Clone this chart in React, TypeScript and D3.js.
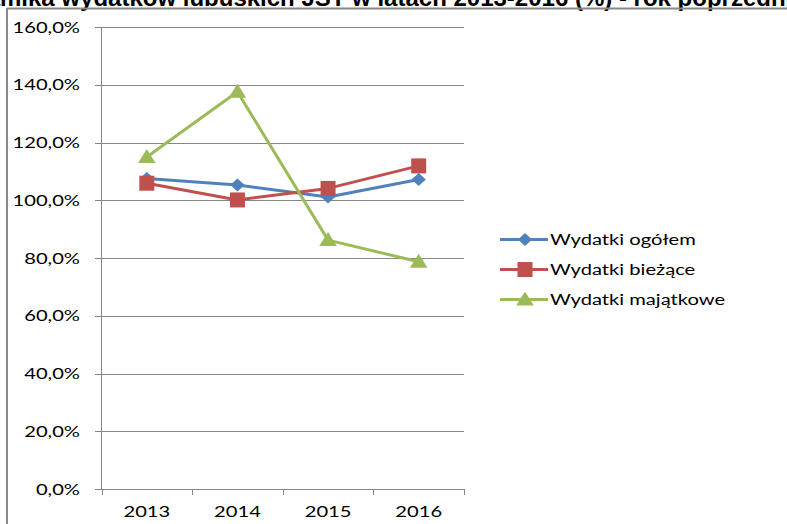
import React from "react";
import * as d3 from "d3";

const years = ["2013", "2014", "2015", "2016"];
const seriesNames = ["Wydatki ogółem", "Wydatki bieżące", "Wydatki majątkowe"];
const ogolem = [107.5, 105.3, 101.1, 107.2];
const biezace = [105.9, 100.1, 104.1, 111.9];
const majatkowe = [115.0, 137.6, 86.2, 78.7];
const yTicks = [0, 20, 40, 60, 80, 100, 120, 140, 160];
const colors = ["#4F81BD", "#C0504D", "#9BBB59"];
const markers = ["diamond", "square", "triangle"];
const titleText = "Dynamika wydatków lubuskich JST w latach 2013-2016 (%) - rok poprzedni = 100";

const W = 787;
const H = 524;
const FONT = "Lato, 'Open Sans', sans-serif";
const SX = 1.26;

function Marker({ kind, x, y, color }: { kind: string; x: number; y: number; color: string }) {
  if (kind === "diamond") {
    const s = 6.5;
    return <path d={`M${x},${y - s}L${x + s * 1.1},${y}L${x},${y + s}L${x - s * 1.1},${y}Z`} fill={color} />;
  }
  if (kind === "square") {
    const s = 7.5;
    return <rect x={x - s} y={y - s} width={2 * s} height={2 * s} fill={color} />;
  }
  const s = 8;
  return <path d={`M${x},${y - s}L${x + s * 1.1},${y + s * 0.75}L${x - s * 1.1},${y + s * 0.75}Z`} fill={color} />;
}

function Label({ x, y, anchor, children }: { x: number; y: number; anchor: string; children: React.ReactNode }) {
  return (
    <text
      transform={`translate(${x},${y}) scale(${SX},1)`}
      dy="0.35em"
      textAnchor={anchor}
      fontFamily={FONT}
      fontSize={16}
      fill="#000"
    >
      {children}
    </text>
  );
}

export default function App() {
  const data = [ogolem, biezace, majatkowe];
  const x = d3.scaleBand().domain(years).range([101.5, 464]);
  const y = d3.scaleLinear().domain([0, 160]).range([489, 27]);
  const cx = (yr: string) => (x(yr) as number) + x.bandwidth() / 2;
  const line = d3
    .line<number>()
    .x((_, i) => cx(years[i]))
    .y((v) => y(v));

  return (
    <svg width={W} height={H} style={{ position: "absolute", left: 0, top: 0, background: "#fff" }}>
      <text x={-58.7} y={5.5} fontFamily="'Liberation Sans', Arial, sans-serif" fontWeight="bold" fontSize={24} fill="#000">
        {titleText}
      </text>
      <line x1={7} x2={W} y1={8.5} y2={8.5} stroke="#888" strokeWidth={2} />
      <line x1={7} x2={7} y1={8} y2={H} stroke="#888" strokeWidth={2} />
      {yTicks.map((t) => (
        <g key={t}>
          <line x1={95} x2={464} y1={Math.round(y(t)) + 0.5} y2={Math.round(y(t)) + 0.5} stroke="#868686" strokeWidth={1} />
          <Label x={80} y={y(t)} anchor="end">
            {d3.format(".1f")(t).replace(".", ",") + "%"}
          </Label>
        </g>
      ))}
      <line x1={101.5} x2={101.5} y1={27} y2={489} stroke="#868686" strokeWidth={1} />
      {[...years.map((yr) => x(yr) as number), 464].map((tx, i) => (
        <line key={i} x1={Math.round(tx) + 0.5} x2={Math.round(tx) + 0.5} y1={489} y2={495} stroke="#868686" />
      ))}
      {years.map((yr) => (
        <Label key={yr} x={cx(yr)} y={511} anchor="middle">
          {yr}
        </Label>
      ))}
      {data.map((vals, si) => (
        <g key={si}>
          <path d={line(vals) || ""} fill="none" stroke={colors[si]} strokeWidth={3} strokeLinejoin="round" />
          {vals.map((v, i) => (
            <Marker key={i} kind={markers[si]} x={cx(years[i])} y={y(v)} color={colors[si]} />
          ))}
        </g>
      ))}
      {seriesNames.map((n, i) => {
        const ly = 239.5 + i * 30;
        return (
          <g key={n}>
            <line x1={500} x2={548} y1={ly} y2={ly} stroke={colors[i]} strokeWidth={3} />
            <Marker kind={markers[i]} x={525} y={ly} color={colors[i]} />
            <Label x={550} y={ly} anchor="start">
              {n}
            </Label>
          </g>
        );
      })}
    </svg>
  );
}
